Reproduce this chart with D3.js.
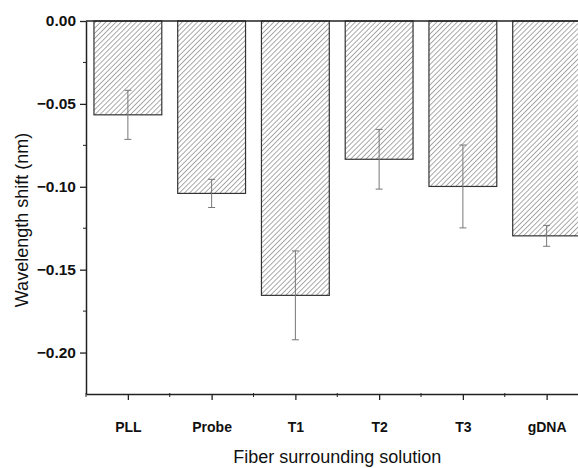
<!DOCTYPE html>
<html>
<head>
<meta charset="utf-8">
<script src="https://cdn.jsdelivr.net/npm/d3@7"></script>
<style>
  body { margin: 0; background: #fff; }
  text { font-family: "Liberation Sans", Arial, sans-serif; fill: #111; }
</style>
</head>
<body>
<script>
// values
var categories = ["PLL", "Probe", "T1", "T2", "T3", "gDNA"];
var shifts = [-0.0566, -0.104, -0.1655, -0.0834, -0.0998, -0.1296];
var errors = [0.0148, 0.0085, 0.0268, 0.018, 0.025, 0.0063];
var yTicks = [0, -0.05, -0.10, -0.15, -0.20];
var yMinor = [-0.025, -0.075, -0.125, -0.175];

var width = 578,
    height = 468;
var margin = {top: 21, left: 86, bottom: 74};

var svg = d3.select("body")
      .append("svg")
      .attr("width", width)
      .attr("height", height);

// categories sit at 1..6, axis runs from 0.5 to 6.5 (runs past the right edge)
var xScale = d3.scaleLinear()
      .domain([0.5, 6.5])
      .range([margin.left, 588.5]);
var yScale = d3.scaleLinear()
      .domain([-0.225, 0])
      .range([height - margin.bottom, margin.top]);

var barW = (xScale(2) - xScale(1)) * 0.81;

// hatch pattern
var pat = svg.append("defs").append("pattern")
      .attr("id", "hatch")
      .attr("patternUnits", "userSpaceOnUse")
      .attr("width", 3.6)
      .attr("height", 3.6)
      .attr("patternTransform", "rotate(45)");
pat.append("rect").attr("width", 3.6).attr("height", 3.6).attr("fill", "#fff");
pat.append("line")
      .attr("x1", 0).attr("y1", 0).attr("x2", 0).attr("y2", 3.6)
      .attr("stroke", "#555")
      .attr("stroke-width", 1);

var data = categories.map((c, i) => ({name: c, x: i + 1, v: shifts[i], e: errors[i]}));

svg.append("g")
  .selectAll("rect")
  .data(data)
  .enter().append("rect")
    .attr("x", d => xScale(d.x) - barW / 2)
    .attr("y", yScale(0))
    .attr("width", barW)
    .attr("height", d => yScale(d.v) - yScale(0))
    .attr("fill", "url(#hatch)")
    .attr("stroke", "#333")
    .attr("stroke-width", 1.2);

// error bars
var eb = svg.append("g")
      .attr("stroke", "#777")
      .attr("stroke-width", 1)
    .selectAll("g")
    .data(data)
    .enter().append("g");
eb.append("line")
    .attr("x1", d => xScale(d.x)).attr("x2", d => xScale(d.x))
    .attr("y1", d => yScale(d.v + d.e)).attr("y2", d => yScale(d.v - d.e));
eb.append("line")
    .attr("x1", d => xScale(d.x) - 3.5).attr("x2", d => xScale(d.x) + 3.5)
    .attr("y1", d => yScale(d.v + d.e)).attr("y2", d => yScale(d.v + d.e));
eb.append("line")
    .attr("x1", d => xScale(d.x) - 3.5).attr("x2", d => xScale(d.x) + 3.5)
    .attr("y1", d => yScale(d.v - d.e)).attr("y2", d => yScale(d.v - d.e));

// top frame line
svg.append("line")
    .attr("x1", margin.left).attr("x2", width)
    .attr("y1", yScale(0)).attr("y2", yScale(0))
    .attr("stroke", "#222")
    .attr("stroke-width", 1.5);

// y axis
var yAxis = svg.append("g")
    .attr("transform", `translate(${margin.left},0)`)
    .call(d3.axisLeft(yScale)
      .tickValues(yTicks)
      .tickSize(6)
      .tickSizeOuter(0)
      .tickFormat(d3.format(".2f")));
yAxis.append("g")
  .selectAll("line")
  .data(yMinor)
  .enter().append("line")
    .attr("x2", -3)
    .attr("y1", d => yScale(d)).attr("y2", d => yScale(d))
    .attr("stroke", "#222");

// x axis
var xAxis = svg.append("g")
    .attr("transform", `translate(0,${yScale(-0.225)})`)
    .call(d3.axisBottom(xScale)
      .tickValues(d3.range(1, 7))
      .tickSize(6)
      .tickSizeOuter(0)
      .tickFormat(d => categories[d - 1]));
xAxis.append("g")
  .selectAll("line")
  .data(d3.range(0.5, 7, 1))
  .enter().append("line")
    .attr("x1", d => xScale(d)).attr("x2", d => xScale(d))
    .attr("y1", -1).attr("y2", 3)
    .attr("stroke", "#222");

svg.selectAll(".domain").attr("stroke", "#222").attr("stroke-width", 1.5);
svg.selectAll(".tick line").attr("stroke", "#222").attr("stroke-width", 1.3);
yAxis.selectAll(".tick text")
    .attr("x", -10)
    .style("font-size", "15.5px")
    .style("font-weight", "bold")
    .style("font-family", "Liberation Sans, Arial, sans-serif")
    .attr("fill", "#111");
xAxis.selectAll(".tick text")
    .attr("y", 28)
    .style("font-size", "14px")
    .style("font-weight", "bold")
    .style("font-family", "Liberation Sans, Arial, sans-serif")
    .attr("fill", "#111");

// axis titles
svg.append("text")
    .attr("x", (xScale.range()[0] + xScale.range()[1]) / 2)
    .attr("y", 463)
    .attr("text-anchor", "middle")
    .style("font-size", "18px")
    .text("Fiber surrounding solution");

svg.append("text")
    .attr("transform", "translate(28,220) rotate(-90)")
    .attr("text-anchor", "middle")
    .style("font-size", "18px")
    .text("Wavelength shift (nm)");
</script>
</body>
</html>
